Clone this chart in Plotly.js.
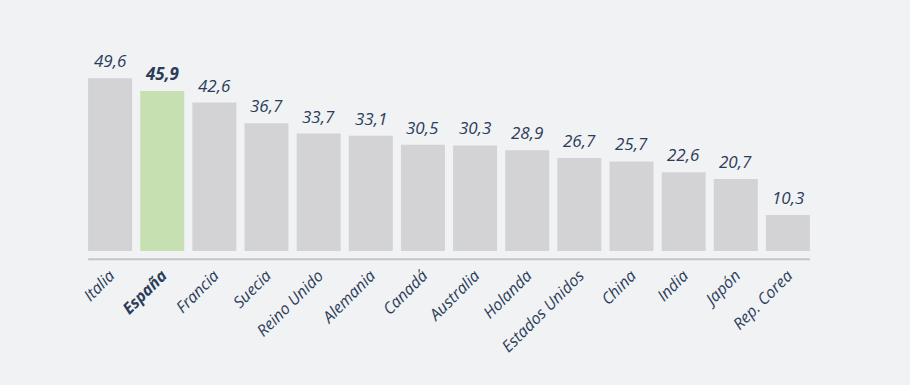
<!DOCTYPE html>
<html><head><meta charset="utf-8">
<script src="https://cdn.plot.ly/plotly-3.0.1.min.js"></script>
<style>body{margin:0;background:#f1f2f4}</style>
</head><body><div id="c" style="width:910px;height:385px"></div>
<script>
var paises = ["Italia","España","Francia","Suecia","Reino Unido","Alemania","Canadá","Australia","Holanda","Estados Unidos","China","India","Japón","Rep. Corea"];
var valores = [49.6,45.9,42.6,36.7,33.7,33.1,30.5,30.3,28.9,26.7,25.7,22.6,20.7,10.3];
var destacado = "España";

var colores = paises.map(function(p){return p===destacado?"#c6e0b1":"#d3d3d5";});
var textos = valores.map(function(v,i){var s=v.toFixed(1).replace(".",","); return paises[i]===destacado?"<b>"+s+"</b>":s;});
var ticks = paises.map(function(p){return p===destacado?"<b>"+p+"</b>":p;});

var trace = {
  type:"bar", x:paises, y:valores, marker:{color:colores},
  hoverinfo:"none"
};
var anots = paises.map(function(p,i){return {
  x:p, y:valores[i], xref:"x", yref:"y", text:textos[i], showarrow:false,
  yanchor:"bottom", yshift:4,
  font:{family:"'Open Sans', sans-serif", size:17, color:"#2c3d5a", style:"italic"}
};});
var layout = {
  width:910, height:385,
  paper_bgcolor:"#f1f2f4", plot_bgcolor:"#f1f2f4",
  margin:{l:84, r:96, t:42, b:134},
  bargap:0.156,
  showlegend:false,
  annotations:anots,
  xaxis:{type:"category", tickvals:paises, ticktext:ticks, tickangle:-45,
    ticks:"outside", ticklen:8, tickcolor:"rgba(0,0,0,0)", showline:false, showgrid:false,
    tickfont:{family:"'Open Sans', sans-serif", size:16, color:"#2c3d5a", style:"italic"},
    range:[-0.5,13.5], fixedrange:true},
  yaxis:{range:[0,60], visible:false, showgrid:false, zeroline:false},
  shapes:[{type:"line", xref:"x", yref:"paper", x0:-0.42, x1:13.42, y0:-0.04, y1:-0.04,
    line:{color:"#c4c4c6", width:2}}]
};
Plotly.newPlot("c",[trace],layout,{displayModeBar:false,staticPlot:true});
</script></body></html>
